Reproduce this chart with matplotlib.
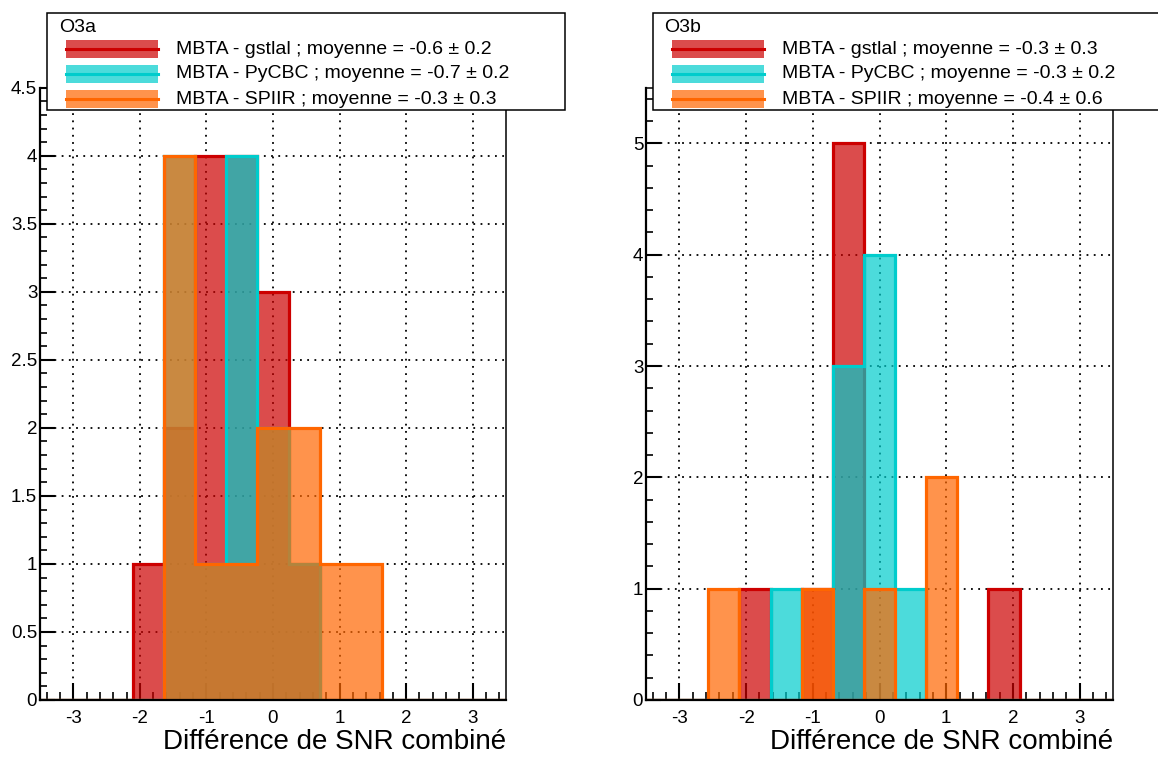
import numpy as np
import matplotlib
matplotlib.use("Agg")
import matplotlib.pyplot as plt
from matplotlib.patches import Rectangle
from matplotlib.lines import Line2D
from matplotlib.ticker import MultipleLocator, FuncFormatter

plt.rcParams['font.family'] = ['Liberation Sans', 'DejaVu Sans']
plt.rcParams['axes.unicode_minus'] = False

W, H = 1158, 760

# binning of the SNR difference histograms
bin_lo, bin_hi, n_bins = -3.5, 3.5, 15

pipelines = ["gstlal", "PyCBC", "SPIIR"]
line_colors = ["#cc0000", "#00cccc", "#ff6600"]

# counts per bin
o3a_gstlal = [0, 0, 0, 1, 2, 4, 4, 3, 1, 0, 0, 0, 0, 0, 0]
o3a_pycbc = [0, 0, 0, 0, 4, 1, 4, 2, 1, 0, 0, 0, 0, 0, 0]
o3a_spiir = [0, 0, 0, 0, 4, 1, 1, 2, 2, 1, 1, 0, 0, 0, 0]

o3b_gstlal = [0, 0, 0, 1, 0, 1, 5, 0, 0, 0, 0, 1, 0, 0, 0]
o3b_pycbc = [0, 0, 0, 0, 1, 0, 3, 4, 1, 0, 0, 0, 0, 0, 0]
o3b_spiir = [0, 0, 1, 0, 0, 1, 0, 1, 0, 2, 0, 0, 0, 0, 0]

o3a_means = [-0.6, -0.7, -0.3]
o3a_errs = [0.2, 0.2, 0.3]
o3b_means = [-0.3, -0.3, -0.4]
o3b_errs = [0.3, 0.2, 0.6]


def fx(x):
    return x / W


def fy(y):
    return 1 - y / H


def draw_panel(ax, counts_list, ymax, ymajor, yminor):
    """
    Draws the three overlaid histograms, ROOT style
    """
    edges = np.linspace(bin_lo, bin_hi, n_bins + 1)
    for counts, c in zip(counts_list, line_colors):
        ax.stairs(counts, edges, fill=True, facecolor=c, alpha=0.7, lw=0, zorder=2)
        ax.stairs(counts, edges, baseline=None, color=c, lw=2.3, zorder=2)
    ax.set_xlim(bin_lo, bin_hi)
    ax.set_ylim(0, ymax)
    ax.set_axisbelow(True)
    ax.xaxis.set_major_locator(MultipleLocator(1))
    ax.xaxis.set_minor_locator(MultipleLocator(0.2))
    ax.yaxis.set_major_locator(MultipleLocator(ymajor))
    ax.yaxis.set_minor_locator(MultipleLocator(yminor))
    ax.yaxis.set_major_formatter(FuncFormatter(lambda v, p: "%g" % v))
    ax.grid(True, which='major', color='black', lw=1.3, linestyle=(0, (1, 3)))
    ax.tick_params(which='both', direction='in', top=False, right=False,
                   labelsize=13.5, color='black')
    ax.tick_params(axis='x', which='major', length=12, width=1.5, pad=7)
    ax.tick_params(axis='x', which='minor', length=6, width=1.2)
    ax.tick_params(axis='y', which='major', length=11, width=1.5, pad=2)
    ax.tick_params(axis='y', which='minor', length=5, width=1.2)
    for side in ['left', 'bottom']:
        ax.spines[side].set_linewidth(1.6)
    for side in ['right', 'top']:
        ax.spines[side].set_linewidth(1.1)
    ax.text(1.0, -0.08, "Différence de SNR combiné", transform=ax.transAxes,
            ha='right', va='baseline', fontsize=20)


def draw_legend(fig, left, right, title, means, errs):
    """
    Legend box in the top of each pad, drawn by hand in pixel units
    """
    top, bottom = 13, 110
    fig.add_artist(Rectangle((fx(left), fy(bottom)), fx(right - left), (bottom - top) / H,
                             transform=fig.transFigure, facecolor='white',
                             edgecolor='black', lw=1.1, zorder=10))
    fig.text(fx(left + 12), fy(27), title, fontsize=14, ha='left', va='center', zorder=11)
    rows = [49, 74, 99]
    for y, name, c, m, e in zip(rows, pipelines, line_colors, means, errs):
        fig.add_artist(Rectangle((fx(left + 19), fy(y + 9)), fx(92), 18 / H,
                                 transform=fig.transFigure, facecolor=c, alpha=0.7,
                                 lw=0, zorder=11))
        fig.add_artist(Line2D([fx(left + 19), fx(left + 111)], [fy(y), fy(y)],
                              transform=fig.transFigure, color=c, lw=2.2, zorder=12))
        label = "MBTA - %s ; moyenne = %.1f ± %.1f" % (name, m, e)
        fig.text(fx(left + 129), fy(y), label, fontsize=14, ha='left', va='center',
                 zorder=12)


fig = plt.figure(figsize=(W / 100, H / 100), dpi=100)
ax1 = fig.add_axes([fx(40), fy(700), fx(466), (700 - 87.7) / H])
ax2 = fig.add_axes([fx(646), fy(700), fx(467), (700 - 87.7) / H])

draw_panel(ax1, [o3a_gstlal, o3a_pycbc, o3a_spiir], 4.5, 0.5, 0.1)
draw_panel(ax2, [o3b_gstlal, o3b_pycbc, o3b_spiir], 5.5, 1, 0.2)

draw_legend(fig, 47, 565, "O3a", o3a_means, o3a_errs)
draw_legend(fig, 652.5, 1170, "O3b", o3b_means, o3b_errs)

fig.savefig("out.png", dpi=100)
